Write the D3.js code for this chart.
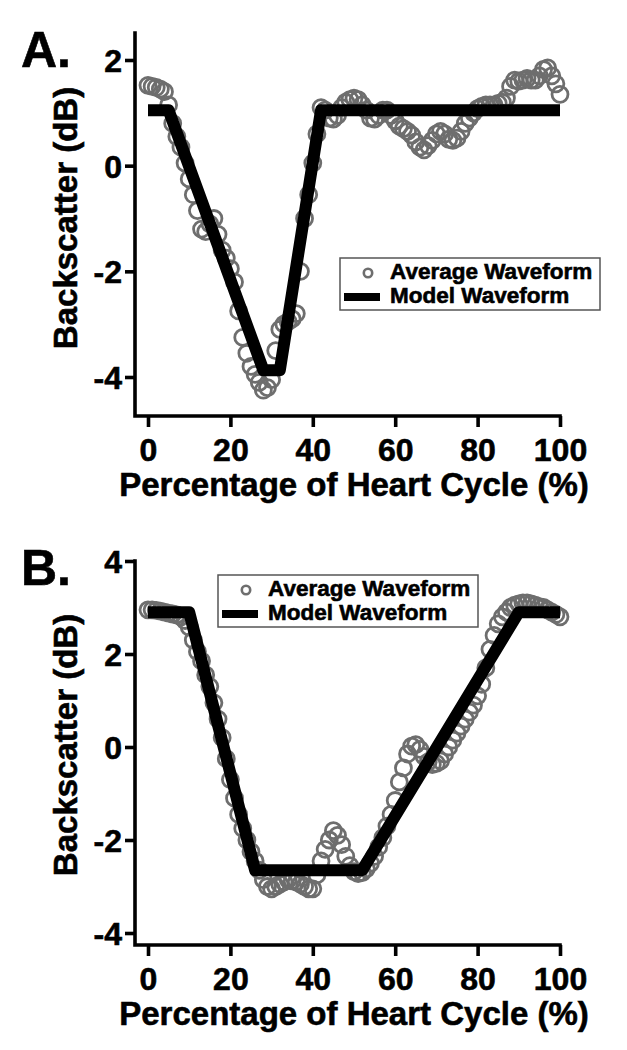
<!DOCTYPE html>
<html><head><meta charset="utf-8">
<script src="https://cdn.jsdelivr.net/npm/d3@7"></script>
<style>
body{margin:0;background:#fff}
svg{display:block}
text{font-family:"Liberation Sans",Arial,Helvetica,sans-serif;font-weight:bold;fill:#000;stroke:#000;stroke-width:0.6px}
</style>
</head><body>
<svg id="c" width="627" height="1050"></svg>
<script>
// ---------- DATA ----------
const cyclePct = [0,1,2,3,4,5,6,7,8,9,10,11,12,13,14,15,16,17,18,19,20,21,22,23,24,25,26,27,28,29,30,31,32,33,34,35,36,37,38,39,40,41,42,43,44,45,46,47,48,49,50,51,52,53,54,55,56,57,58,59,60,61,62,63,64,65,66,67,68,69,70,71,72,73,74,75,76,77,78,79,80,81,82,83,84,85,86,87,88,89,90,91,92,93,94,95,96,97,98,99,100];

const avgA = [1.52,1.50,1.48,1.45,1.40,1.15,0.80,0.55,0.35,0.05,
  -0.25,-0.55,-0.85,-1.20,-1.25,-1.10,-1.00,-1.30,-1.60,-1.75,
  -1.95,-2.20,-2.75,-3.25,-3.55,-3.80,-3.95,-4.10,-4.25,-4.20,
  -4.05,-3.50,-3.10,-3.00,-2.95,-2.90,-2.80,-2.00,-1.00,-0.55,
  0.05,0.60,1.10,1.05,0.90,0.88,0.95,1.10,1.20,1.25,
  1.28,1.25,1.15,1.05,0.90,0.88,0.95,1.05,1.05,0.95,
  0.85,0.75,0.70,0.65,0.58,0.45,0.35,0.30,0.38,0.48,
  0.60,0.65,0.60,0.50,0.48,0.52,0.65,0.80,0.90,1.00,
  1.08,1.12,1.15,1.15,1.15,1.18,1.20,1.28,1.50,1.62,
  1.60,1.62,1.65,1.62,1.62,1.70,1.82,1.85,1.70,1.55,1.35];

const avgB = [2.95,2.95,2.94,2.92,2.90,2.88,2.86,2.84,2.80,2.72,
  2.58,2.30,2.05,1.85,1.55,1.30,0.95,0.60,0.20,-0.25,
  -0.70,-1.10,-1.45,-1.75,-2.00,-2.25,-2.45,-2.65,-2.85,-3.00,
  -3.05,-3.00,-2.95,-2.90,-2.85,-2.88,-2.90,-2.95,-3.00,-3.05,
  -3.05,-2.75,-2.45,-2.20,-2.00,-1.80,-1.90,-2.10,-2.35,-2.55,
  -2.68,-2.72,-2.70,-2.62,-2.50,-2.35,-2.15,-1.95,-1.70,-1.45,
  -1.15,-0.75,-0.45,-0.15,0.02,0.05,-0.05,-0.20,-0.32,-0.38,
  -0.35,-0.30,-0.15,0.00,0.15,0.30,0.45,0.60,0.75,0.90,
  1.10,1.35,1.70,2.10,2.40,2.65,2.80,2.90,3.00,3.05,
  3.08,3.10,3.10,3.08,3.05,3.02,3.00,2.95,2.90,2.85,2.80];

const modelAx = [0,5,28,32,42,100];
const modelAy = [1.05,1.05,-3.87,-3.87,1.05,1.05];
const modelBx = [0,10,26,52,90,100];
const modelBy = [2.9,2.9,-2.65,-2.65,2.9,2.9];

const xTicks = [0,20,40,60,80,100];
const yTicksA = [-4,-2,0,2];
const yTicksB = [-4,-2,0,2,4];
const panelLabels = ["A.","B."];
const legendLabels = ["Average Waveform","Model Waveform"];
const xTitle = "Percentage of Heart Cycle (%)";
const yTitle = "Backscatter (dB)";

// ---------- LAYOUT ----------
const panels = [
  {label: panelLabels[0], avg: avgA, mx: modelAx, my: modelAy, yTicks: yTicksA,
   yDom: [-4, 2], yRange: [377, 60], axTop: 33, axBottom: 416,
   letterY: 67, ytitleY: 218, legend: {x: 340, y: 258}},
  {label: panelLabels[1], avg: avgB, mx: modelBx, my: modelBy, yTicks: yTicksB,
   yDom: [-4, 4], yRange: [933, 561], axTop: 561, axBottom: 945,
   letterY: 585, ytitleY: 745, legend: {x: 218, y: 575}}
];

const svg = d3.select("#c");
const x = d3.scaleLinear().domain([0, 100]).range([148, 560]);
const axisX = 135;
const fmt = d => String(d);

panels.forEach(p => {
  const y = d3.scaleLinear().domain(p.yDom).range(p.yRange);
  const g = svg.append("g");

  // axes (L-shape)
  g.append("path")
    .attr("d", `M${axisX},${p.axTop}V${p.axBottom}H${x(100)}`)
    .attr("fill", "none").attr("stroke", "#000").attr("stroke-width", 3.6)
    .attr("stroke-linecap", "square").attr("stroke-linejoin", "miter");

  const ya = d3.axisLeft(y).tickValues(p.yTicks).tickSize(10).tickPadding(3).tickFormat(fmt);
  const yg = g.append("g").attr("transform", `translate(${axisX},0)`).call(ya);
  yg.select(".domain").remove();
  yg.attr("font-family", null).attr("font-size", null);
  yg.selectAll(".tick line").attr("stroke-width", 3.6);
  yg.selectAll(".tick text").attr("font-size", 32).attr("dy", "0.36em");

  const xa = d3.axisBottom(x).tickValues(xTicks).tickSize(11).tickPadding(11).tickFormat(fmt);
  const xg = g.append("g").attr("transform", `translate(0,${p.axBottom})`).call(xa);
  xg.select(".domain").remove();
  xg.attr("font-family", null).attr("font-size", null);
  xg.selectAll(".tick line").attr("stroke-width", 3.6);
  xg.selectAll(".tick text").attr("font-size", 32);

  // titles
  g.append("text").attr("x", (x(0) + x(100)) / 2).attr("y", p.axBottom + 80)
    .attr("text-anchor", "middle").attr("font-size", 33).text(xTitle);
  g.append("text").attr("transform", `translate(77,${p.ytitleY}) rotate(-90)`)
    .attr("text-anchor", "middle").attr("font-size", 33).text(yTitle);
  g.append("text").attr("x", 21).attr("y", p.letterY).attr("font-size", 50).text(p.label);

  // data circles
  g.append("g").selectAll("circle").data(cyclePct).join("circle")
    .attr("cx", (d) => x(d)).attr("cy", (d, i) => y(p.avg[i])).attr("r", 8)
    .attr("fill", "none").attr("stroke", "#6e6e6e").attr("stroke-width", 2.8);

  // model line
  const line = d3.line().x(d => x(d[0])).y(d => y(d[1]));
  g.append("path").datum(p.mx.map((v, i) => [v, p.my[i]]))
    .attr("d", line).attr("fill", "none").attr("stroke", "#000")
    .attr("stroke-width", 12).attr("stroke-linejoin", "round").attr("stroke-linecap", "butt");

  // legend
  const L = g.append("g").attr("transform", `translate(${p.legend.x},${p.legend.y})`);
  L.append("rect").attr("width", 260).attr("height", 52).attr("fill", "#fff")
    .attr("stroke", "#555").attr("stroke-width", 1.5);
  L.append("circle").attr("cx", 28).attr("cy", 15).attr("r", 4.2)
    .attr("fill", "none").attr("stroke", "#6e6e6e").attr("stroke-width", 2.6);
  L.append("line").attr("x1", 4).attr("x2", 40).attr("y1", 39).attr("y2", 39)
    .attr("stroke", "#000").attr("stroke-width", 8);
  L.append("text").attr("x", 50).attr("y", 21).attr("font-size", 22.5).text(legendLabels[0]);
  L.append("text").attr("x", 50).attr("y", 45).attr("font-size", 22.5).text(legendLabels[1]);
});
</script>
</body></html>
